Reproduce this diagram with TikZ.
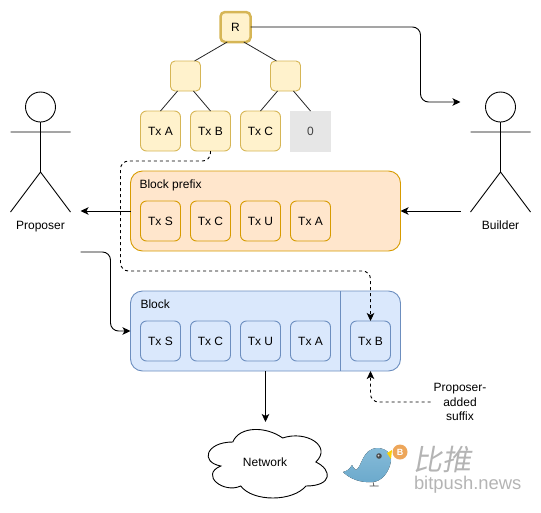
\documentclass[tikz,border=0pt]{standalone}
\usepackage{fontspec}
\setmainfont{Liberation Sans}
\newfontfamily\cjkfont[FakeSlant=0.18]{Noto Sans CJK SC}
\usetikzlibrary{arrows.meta, positioning, calc}
\definecolor{yellowfill}{HTML}{FFF2CC}
\definecolor{yellowline}{HTML}{D6B656}
\definecolor{orangefill}{HTML}{FFE6CC}
\definecolor{orangeline}{HTML}{D79B00}
\definecolor{bluefill}{HTML}{DAE8FC}
\definecolor{blueline}{HTML}{6C8EBF}
\definecolor{zerofill}{HTML}{E6E6E6}
\definecolor{logogray}{HTML}{B4B4B4}
\definecolor{birdtop}{HTML}{86BBD8}
\definecolor{birdbottom}{HTML}{6BA9CC}
\definecolor{coinorange}{HTML}{EDA65A}

\begin{document}
\begin{tikzpicture}[
      x=1pt, y=-1pt,
      line width=0.9pt,
      font=\fontsize{12pt}{14pt}\selectfont,
      every node/.style={outer sep=0pt, inner sep=0pt},
      treenode/.style={rectangle, draw=yellowline, fill=yellowfill, rounded corners=4.5pt, minimum size=30pt},
      rootnode/.style={treenode, line width=2.5pt},
      txleaf/.style={rectangle, draw=yellowline, fill=yellowfill, rounded corners=6pt, minimum size=40pt},
      zeroleaf/.style={rectangle, draw=zerofill, fill=zerofill, text=black!75, minimum size=40pt},
      txprefix/.style={rectangle, draw=orangeline, fill=orangefill, rounded corners=6pt, minimum size=40pt},
      txblock/.style={rectangle, draw=blueline, fill=bluefill, rounded corners=6pt, minimum size=40pt},
      prefixbox/.style={rectangle, draw=orangeline, fill=orangefill, rounded corners=12pt, minimum width=270pt, minimum height=80pt},
      blockbox/.style={rectangle, draw=blueline, fill=bluefill, rounded corners=12pt, minimum width=270pt, minimum height=80pt},
      actor/.style={rectangle, minimum width=60pt, minimum height=120pt, outer xsep=10pt},
      edge/.style={draw=black!85, line width=0.8pt},
      arrow/.style={line width=0.9pt, -{Stealth[length=8pt, width=7.5pt, inset=2pt]}},
      roundarrow/.style={arrow, rounded corners=8pt},
      dasharrow/.style={roundarrow, dash pattern=on 3pt off 3pt}
    ]
    \useasboundingbox (0,0) rectangle (541,512);

    % Merkle tree
    \node (root) [rootnode] at (235.5,27) {R};
    \node (midL) [treenode, below left=19pt and 20pt of root] {};
    \node (midR) [treenode, below right=19pt and 20pt of root] {};
    \node (leafA) [txleaf, below=20pt of midL, xshift=-25pt] {Tx A};
    \node (leafB) [txleaf, right=10pt of leafA] {Tx B};
    \node (leafC) [txleaf, right=10pt of leafB] {Tx C};
    \node (leafZero) [zeroleaf, right=10pt of leafC] {0};

    \draw [edge] (root.241) -- (midL.59);
    \draw [edge] (root.299) -- (midR.121);
    \draw [edge] (midL.242) -- (leafA.north);
    \draw [edge] (midL.298) -- (leafB.north);
    \draw [edge] (midR.242) -- (leafC.north);
    \draw [edge] (midR.298) -- (leafZero.north);

    % Block prefix
    \node (prefix) [prefixbox, anchor=north west] at ($(leafA.south west)+(-10pt,-20pt)$) {};
    \node (prefixLabel) [below right=9pt and 9pt of prefix.north west] {Block prefix};
    \node (preS) [txprefix, below right=30pt and 10pt of prefix.north west] {Tx S};
    \node (preC) [txprefix, right=10pt of preS] {Tx C};
    \node (preU) [txprefix, right=10pt of preC] {Tx U};
    \node (preA) [txprefix, right=10pt of preU] {Tx A};

    % Block
    \node (block) [blockbox, below=40pt of prefix] {};
    \node (blockLabel) [below right=9pt and 10pt of block.north west] {Block};
    \node (blkS) [txblock, below right=30pt and 10pt of block.north west] {Tx S};
    \node (blkC) [txblock, right=10pt of blkS] {Tx C};
    \node (blkU) [txblock, right=10pt of blkC] {Tx U};
    \node (blkA) [txblock, right=10pt of blkU] {Tx A};
    \node (blkB) [txblock, right=20pt of blkA] {Tx B};
    \coordinate (splitTop) at ($(block.north east)+(-60pt,0pt)$);
    \draw [blueline] (splitTop) -- (splitTop |- block.south);

    % Actors
    \node (proposer) [actor] at (40.5,152) {};
    \node (builder) [actor] at (500.5,152) {};
    \foreach \who/\txt in {proposer/Proposer, builder/Builder} {
      \draw [fill=white] ($(\who.north)+(0pt,-15pt)$) circle (15pt);
      \draw ($(\who.north)+(0pt,-30pt)$) -- ($(\who.center)+(0pt,-20pt)$)
        -- ($(\who.center)+(-30pt,-60pt)$) ($(\who.center)+(0pt,-20pt)$) -- ($(\who.center)+(30pt,-60pt)$)
        ($(\who.center)+(-30pt,20pt)$) -- ($(\who.center)+(30pt,20pt)$);
      \node (\who Label) [below=9pt of \who.south] {\txt};
    }

    % Network and notes
    \node (network) [minimum width=133pt, minimum height=80pt] at (266,462) {\hspace*{-2pt}Network};
    \begin{scope}[shift={(network.north west)}, x=1.33pt, y=-0.8pt]
      \draw (25,25) .. controls (5,25) and (0,50) .. (16,55) .. controls (0,66) and (18,90) .. (31,80)
        .. controls (40,100) and (70,100) .. (80,80) .. controls (100,80) and (100,60) .. (87.5,50)
        .. controls (100,30) and (80,10) .. (62.5,20) .. controls (50,5) and (30,5) .. (25,25) -- cycle;
    \end{scope}
    \node (suffix) [align=center, inner xsep=3pt, font=\fontsize{12pt}{14.5pt}\selectfont] at (460,402) {Proposer-\\added\\suffix};

    % Connectors
    \coordinate (rootTurn) at ($(builder.west)+(-40pt,50pt)$);
    \coordinate (builderIn) at ($(builder.west)+(0pt,50pt)$);
    \coordinate (proposerOut) at ($(proposer.east)+(0pt,-100pt)$);
    \coordinate (dashTop) at ($(prefix.north west)+(-10pt,10pt)$);
    \coordinate (dashBottom) at ($(prefix.south west)+(-10pt,-20pt)$);
    \draw [roundarrow] (root.east) -| (rootTurn) -- (builderIn);
    \draw [arrow] (prefix.west) -- (prefix.west -| proposer.east);
    \draw [arrow] (builder.west |- prefix.west) -- (prefix.east);
    \draw [roundarrow] (proposerOut) -| ($(block.west)+(-20pt,0pt)$) -- (block.west);
    \draw [arrow] (block.south) -- (block.south |- network.north);
    \draw [dasharrow] (leafB.south) |- (dashTop) -- (dashBottom) -| (blkB.north);
    \draw [dasharrow] (suffix.west) -| (blkB |- block.south);

    % Logo
    \fill [top color=birdtop, bottom color=birdbottom] (343,472) .. controls (347,471) and (350,469) .. (352,465)
      .. controls (353,467) and (354,469) .. (356,470) .. controls (362,467) and (362,449) .. (377,448)
      .. controls (386,448) and (392,454) .. (391,461) .. controls (389,473) and (381,482) .. (372,482)
      .. controls (361,483) and (350,479) .. (343,472) -- cycle;
    \fill [yellow!70!orange] (387,453) -- (392,450) -- (391,459) -- cycle;
    \fill [black!70] (379,456) circle (2.8pt);
    \fill [white!70!gray] (378.5,455.5) circle (1pt);
    \draw [black!70, line width=0.7pt] (373,482) -- (374,486) (369.5,486) -- (378.5,486);
    \node (coin) [circle, fill=coinorange, minimum size=15pt, text=white, font=\fontsize{9pt}{9pt}\bfseries\selectfont] at (400,452) {B};
    \node (logoCn) [anchor=west, text=logogray, font=\fontsize{29pt}{30pt}\cjkfont] at (413,459) {比推};
    \node (logoEn) [anchor=west, text=logogray, font=\fontsize{18.4pt}{20pt}\selectfont] at (414,485) {bitpush.news};
\end{tikzpicture}
\end{document}
